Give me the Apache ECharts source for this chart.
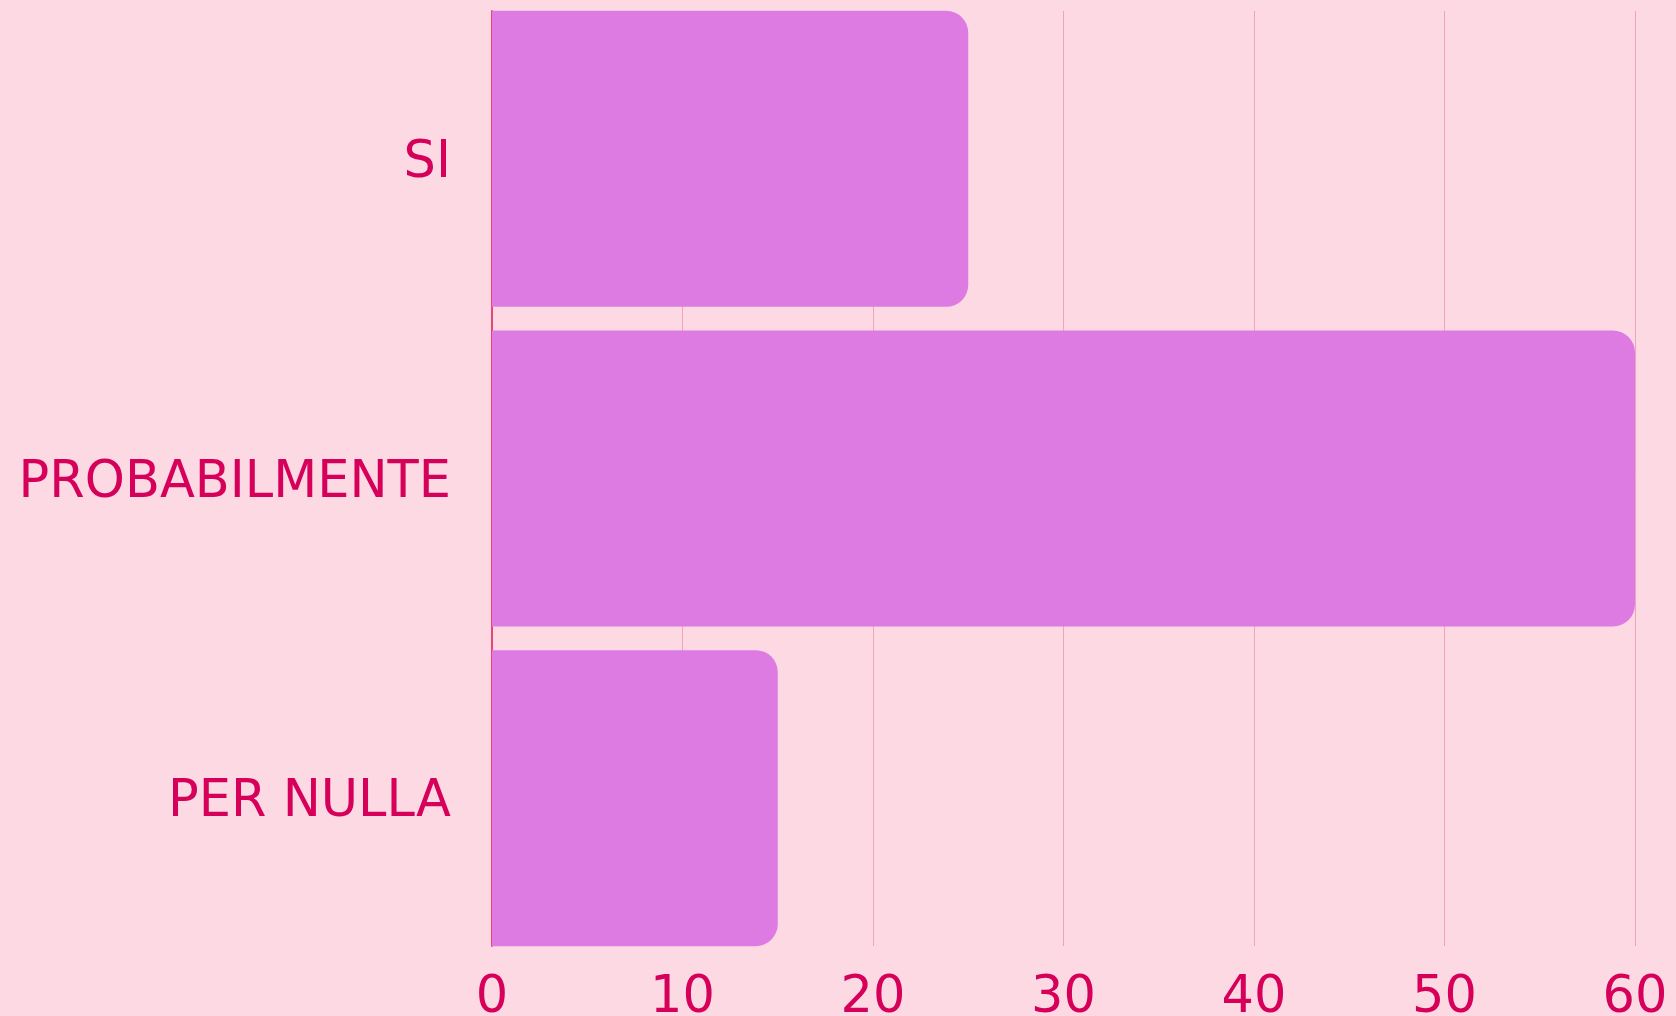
<!DOCTYPE html>
<html>
<head>
<meta charset="utf-8">
<script src="https://cdn.jsdelivr.net/npm/echarts@6/dist/echarts.min.js"></script>
<style>
html,body{margin:0;padding:0;background:#fdd9e4;}
#chart{width:1676px;height:1016px;}
</style>
</head>
<body>
<div id="chart"></div>
<script>
var categories = ['SI', 'PROBABILMENTE', 'PER NULLA'];
var values = [25, 60, 15];
var xTicks = [0, 10, 20, 30, 40, 50, 60];

var textColor = '#d6005a';
var fontFamily = 'DejaVu Sans';
var chart = echarts.init(document.getElementById('chart'));
chart.setOption({
  backgroundColor: '#fdd9e4',
  animation: false,
  grid: [
    {left: 492, right: 41, top: 11, height: 935, containLabel: false, outerBoundsMode: 'none'},
    {left: 492, right: 41, top: -1, height: 959, containLabel: false, outerBoundsMode: 'none'}
  ],
  xAxis: [
    {
      gridIndex: 0, type: 'value', min: xTicks[0], max: xTicks[xTicks.length - 1], interval: 10,
      axisLine: {show: false}, axisTick: {show: false},
      splitLine: {show: true, showMinLine: false, lineStyle: {color: '#f2a2bd', width: 1}},
      axisLabel: {color: textColor, fontFamily: fontFamily, fontSize: 51, margin: 27}
    },
    {
      gridIndex: 1, type: 'value', min: xTicks[0], max: xTicks[xTicks.length - 1],
      show: false
    }
  ],
  yAxis: [
    {
      gridIndex: 0, type: 'value', min: 0, max: 1,
      axisLine: {show: true, lineStyle: {color: '#e8467a', width: 2}},
      axisTick: {show: false}, axisLabel: {show: false}, splitLine: {show: false}
    },
    {
      gridIndex: 1, type: 'category', data: categories, inverse: true,
      axisLine: {show: false}, axisTick: {show: false}, splitLine: {show: false},
      axisLabel: {
        margin: 41,
        formatter: function (v) { return '{a|' + v + '}'; },
        rich: {a: {color: textColor, fontFamily: fontFamily, fontSize: 51, padding: [10, 0, 0, 0]}}
      }
    }
  ],
  series: [{
    type: 'bar',
    xAxisIndex: 1,
    yAxisIndex: 1,
    data: values,
    barWidth: 296,
    itemStyle: {color: '#dd7be3', borderRadius: [0, 22, 22, 0]},
    z: 3
  }]
});
</script>
</body>
</html>
